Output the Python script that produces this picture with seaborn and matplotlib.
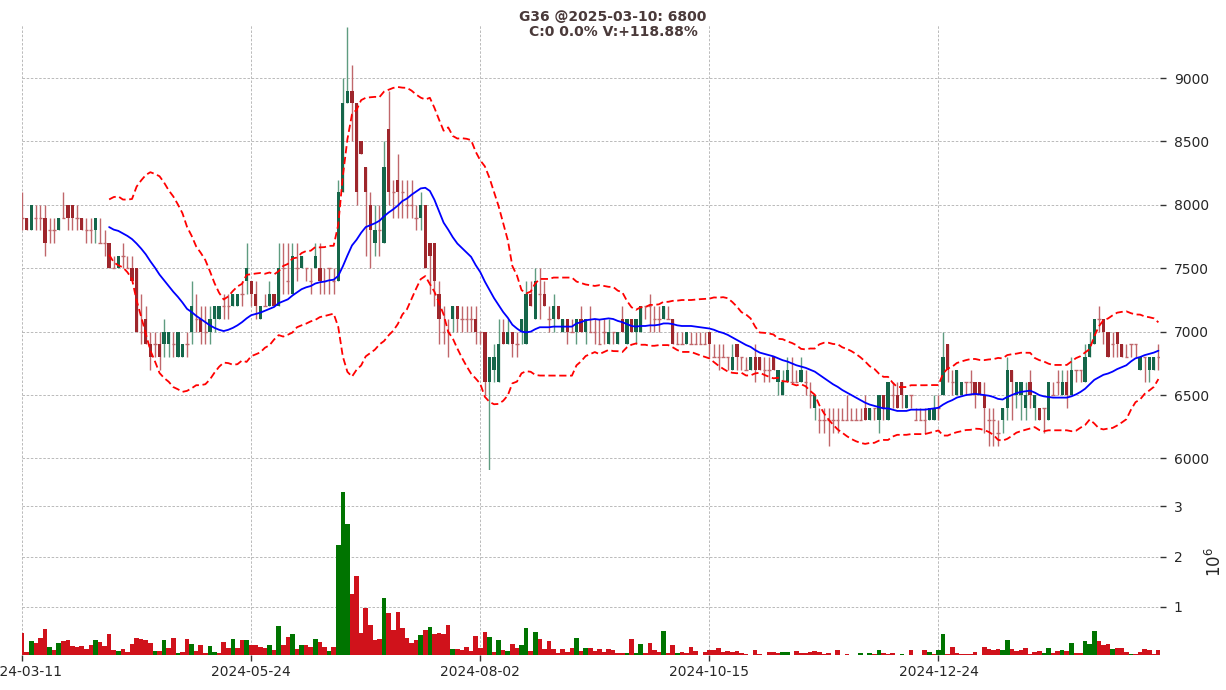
import numpy as np
import pandas as pd
import matplotlib
matplotlib.use("Agg")
import matplotlib.pyplot as plt
import seaborn as sns

# daily bars, index 0..248
tick_pos = [0, 50, 100, 150, 200]
tick_dates = ["2024-03-11", "2024-05-24", "2024-08-02", "2024-10-15", "2024-12-24"]

opens = [7900, 7900, 7800, 7900, 7900, 7900, 7800, 7800, 7800, 7900,
         8000, 8000, 7900, 7900, 7800, 7800, 7800, 7700, 7700, 7700,
         7500, 7500, 7600, 7500, 7500, 7500, 7000, 7100, 6900, 6900,
         6900, 6900, 6900, 6900, 6800, 6800, 6900, 7000, 7100, 7100,
         7000, 7000, 7100, 7100, 7200, 7200, 7200, 7200, 7300, 7400,
         7400, 7300, 7100, 7200, 7200, 7300, 7200, 7500, 7400, 7300,
         7500, 7500, 7500, 7400, 7500, 7500, 7400, 7500, 7400, 7400,
         8100, 8800, 8900, 8800, 8500, 8300, 8000, 7700, 7800, 7700,
         8600, 8100, 8200, 8100, 8000, 8000, 7900, 7900, 8000, 7700,
         7700, 7300, 7000, 7000, 7100, 7200, 7100, 7100, 7100, 7100,
         7000, 7000, 6600, 6700, 6600, 7000, 6900, 7000, 6900, 7000,
         6900, 7300, 7100, 7300, 7300, 7100, 7100, 7200, 7000, 7100,
         7000, 7000, 7100, 7000, 7000, 7000, 6900, 7000, 6900, 7000,
         6900, 7100, 6900, 7100, 7000, 7000, 7200, 7200, 7100, 7100,
         7100, 7100, 7100, 6900, 6900, 6900, 6900, 6900, 6900, 6900,
         7000, 6800, 6800, 6800, 6800, 6700, 6900, 6800, 6700, 6700,
         6800, 6800, 6700, 6700, 6800, 6600, 6500, 6600, 6600, 6600,
         6600, 6600, 6500, 6400, 6300, 6300, 6300, 6300, 6300, 6300,
         6300, 6300, 6300, 6300, 6400, 6300, 6400, 6300, 6500, 6300,
         6500, 6500, 6600, 6400, 6500, 6300, 6300, 6300, 6300, 6300,
         6400, 6500, 6900, 6600, 6500, 6500, 6600, 6600, 6600, 6600,
         6500, 6300, 6300, 6200, 6300, 6400, 6700, 6500, 6500, 6400,
         6600, 6400, 6400, 6400, 6300, 6500, 6600, 6500, 6600, 6500,
         6700, 6700, 6600, 6800, 6900, 7100, 7100, 7000, 6900, 7000,
         6900, 6800, 6900, 6900, 6700, 6800, 6700, 6700, 6800]

highs = [8100, 7900, 8000, 8000, 8000, 8000, 7900, 7900, 7900, 8100,
         8000, 8000, 8000, 7900, 7900, 7900, 7900, 7900, 7800, 7700,
         7600, 7600, 7700, 7600, 7600, 7500, 7300, 7200, 7000, 7000,
         7000, 7100, 7000, 7000, 7000, 6900, 7000, 7400, 7300, 7200,
         7200, 7200, 7200, 7200, 7300, 7300, 7300, 7300, 7400, 7700,
         7400, 7400, 7200, 7300, 7400, 7300, 7700, 7700, 7700, 7700,
         7700, 7600, 7500, 7500, 7700, 7700, 7500, 7500, 7500, 8200,
         9000, 9400, 9100, 8800, 8500, 8300, 8100, 8000, 8000, 8500,
         8900, 8200, 8400, 8200, 8200, 8200, 8000, 8100, 8000, 7700,
         7700, 7400, 7200, 7100, 7200, 7200, 7200, 7200, 7200, 7200,
         7000, 7000, 6800, 6900, 7100, 7100, 7100, 7000, 7000, 7100,
         7400, 7400, 7500, 7500, 7400, 7200, 7300, 7200, 7100, 7100,
         7100, 7100, 7200, 7100, 7200, 7100, 7100, 7100, 7100, 7000,
         7000, 7200, 7100, 7100, 7100, 7200, 7200, 7300, 7200, 7200,
         7200, 7200, 7100, 7000, 7000, 7000, 7000, 7000, 7000, 7000,
         7000, 6900, 6900, 6900, 6800, 6900, 6900, 6800, 6800, 6800,
         6900, 6800, 6800, 6800, 6800, 6700, 6700, 6800, 6800, 6700,
         6800, 6700, 6600, 6500, 6400, 6400, 6400, 6400, 6400, 6400,
         6500, 6400, 6400, 6400, 6500, 6400, 6400, 6500, 6500, 6600,
         6600, 6600, 6600, 6500, 6500, 6400, 6400, 6400, 6400, 6500,
         6500, 7000, 6900, 6700, 6700, 6600, 6600, 6700, 6600, 6600,
         6600, 6400, 6400, 6300, 6400, 6800, 6700, 6600, 6600, 6600,
         6700, 6500, 6400, 6400, 6600, 6600, 6700, 6700, 6700, 6800,
         6700, 6700, 6900, 7000, 7100, 7200, 7100, 7000, 7000, 7000,
         6900, 6900, 6900, 6900, 6800, 6800, 6800, 6800, 6900]

lows = [7800, 7800, 7800, 7800, 7800, 7600, 7700, 7700, 7800, 7900,
        7800, 7800, 7800, 7800, 7700, 7700, 7700, 7700, 7600, 7500,
        7500, 7500, 7500, 7500, 7400, 7000, 6900, 6900, 6700, 6800,
        6700, 6800, 6800, 6800, 6800, 6800, 6800, 6900, 7000, 6900,
        6900, 6900, 7000, 7100, 7100, 7100, 7200, 7200, 7200, 7300,
        7200, 7100, 7100, 7200, 7200, 7200, 7200, 7300, 7300, 7300,
        7400, 7500, 7400, 7300, 7500, 7300, 7300, 7300, 7300, 7400,
        8100, 8800, 8500, 8000, 8400, 7600, 7500, 7600, 7600, 7700,
        8000, 7900, 7900, 7900, 7900, 7900, 7800, 7800, 7500, 7300,
        7200, 6900, 6900, 6800, 7000, 7000, 7000, 7000, 7000, 6900,
        6900, 6500, 5900, 6600, 6600, 6900, 6900, 6800, 6800, 6900,
        6900, 7200, 7100, 7100, 7200, 7000, 7000, 7100, 7000, 6900,
        7000, 6900, 7000, 6900, 7000, 6900, 6900, 6900, 6900, 6900,
        6900, 7000, 6900, 7000, 6900, 7000, 7100, 7000, 7000, 7000,
        7100, 7100, 6900, 6900, 6900, 6900, 6900, 6900, 6900, 6900,
        6800, 6800, 6700, 6800, 6700, 6700, 6700, 6700, 6700, 6700,
        6600, 6700, 6600, 6600, 6700, 6500, 6500, 6600, 6600, 6600,
        6600, 6500, 6400, 6300, 6200, 6200, 6100, 6200, 6200, 6300,
        6300, 6300, 6300, 6300, 6300, 6300, 6300, 6200, 6300, 6300,
        6400, 6400, 6400, 6400, 6400, 6300, 6300, 6200, 6300, 6300,
        6300, 6500, 6600, 6500, 6500, 6500, 6500, 6500, 6400, 6500,
        6200, 6100, 6100, 6100, 6200, 6300, 6300, 6400, 6300, 6300,
        6400, 6300, 6300, 6200, 6300, 6500, 6500, 6500, 6400, 6500,
        6600, 6600, 6600, 6800, 6900, 7000, 6900, 6800, 6800, 6800,
        6800, 6800, 6800, 6800, 6700, 6600, 6600, 6700, 6700]

closes = [7900, 7800, 8000, 7900, 7900, 7700, 7800, 7800, 7900, 7900,
          7900, 7900, 7900, 7800, 7800, 7800, 7900, 7700, 7700, 7500,
          7500, 7600, 7600, 7500, 7400, 7000, 7000, 6900, 6800, 6900,
          6800, 7000, 7000, 6900, 7000, 6900, 6900, 7200, 7100, 7000,
          7000, 7100, 7200, 7200, 7200, 7200, 7300, 7300, 7300, 7500,
          7300, 7200, 7200, 7200, 7300, 7200, 7500, 7500, 7400, 7600,
          7500, 7600, 7500, 7400, 7600, 7400, 7400, 7500, 7400, 8100,
          8800, 8900, 8800, 8100, 8400, 8100, 7800, 7800, 7800, 8300,
          8100, 8100, 8100, 8100, 8000, 8000, 7900, 8000, 7500, 7600,
          7400, 7100, 7000, 7000, 7200, 7100, 7100, 7100, 7100, 7000,
          7000, 6600, 6800, 6800, 6900, 6900, 7000, 6900, 6900, 7100,
          7300, 7200, 7400, 7300, 7200, 7100, 7200, 7100, 7100, 7000,
          7000, 7100, 7000, 7100, 7000, 7000, 6900, 7000, 7000, 7000,
          7000, 7000, 7100, 7000, 7100, 7200, 7200, 7200, 7100, 7100,
          7200, 7100, 6900, 6900, 6900, 7000, 6900, 6900, 6900, 6900,
          6900, 6800, 6800, 6800, 6800, 6800, 6800, 6800, 6700, 6800,
          6700, 6700, 6700, 6700, 6700, 6700, 6600, 6700, 6600, 6600,
          6700, 6600, 6500, 6500, 6300, 6300, 6300, 6300, 6300, 6300,
          6300, 6300, 6300, 6300, 6300, 6400, 6400, 6500, 6400, 6600,
          6500, 6400, 6500, 6500, 6500, 6300, 6300, 6300, 6400, 6400,
          6400, 6800, 6700, 6600, 6700, 6600, 6600, 6600, 6500, 6500,
          6400, 6300, 6300, 6200, 6400, 6700, 6600, 6600, 6600, 6500,
          6500, 6500, 6300, 6400, 6600, 6500, 6600, 6600, 6500, 6700,
          6700, 6700, 6800, 6900, 7100, 7100, 7000, 6800, 6900, 6900,
          6800, 6800, 6900, 6900, 6800, 6800, 6800, 6800, 6800]

# volume in millions
volumes = [0.47, 0.09, 0.31, 0.27, 0.37, 0.55, 0.19, 0.13, 0.27, 0.31,
           0.33, 0.21, 0.19, 0.21, 0.15, 0.23, 0.33, 0.29, 0.21, 0.45,
           0.13, 0.11, 0.15, 0.09, 0.25, 0.37, 0.35, 0.33, 0.27, 0.11,
           0.11, 0.33, 0.17, 0.37, 0.07, 0.09, 0.35, 0.25, 0.11, 0.23,
           0.07, 0.21, 0.09, 0.07, 0.29, 0.17, 0.35, 0.17, 0.33, 0.33,
           0.23, 0.23, 0.19, 0.17, 0.23, 0.13, 0.61, 0.23, 0.39, 0.45,
           0.15, 0.23, 0.23, 0.19, 0.35, 0.29, 0.19, 0.11, 0.19, 2.23,
           3.29, 2.65, 1.25, 1.61, 0.47, 0.97, 0.63, 0.33, 0.35, 1.17,
           0.87, 0.53, 0.89, 0.57, 0.37, 0.27, 0.33, 0.43, 0.53, 0.59,
           0.45, 0.47, 0.45, 0.63, 0.15, 0.15, 0.13, 0.19, 0.11, 0.41,
           0.17, 0.49, 0.39, 0.09, 0.33, 0.13, 0.11, 0.25, 0.17, 0.23,
           0.57, 0.11, 0.49, 0.35, 0.15, 0.31, 0.15, 0.07, 0.15, 0.09,
           0.17, 0.37, 0.11, 0.17, 0.17, 0.11, 0.15, 0.09, 0.15, 0.13,
           0.07, 0.07, 0.07, 0.35, 0.07, 0.25, 0.07, 0.27, 0.13, 0.09,
           0.51, 0.07, 0.23, 0.07, 0.09, 0.07, 0.19, 0.11, 0.03, 0.09,
           0.13, 0.13, 0.17, 0.09, 0.11, 0.09, 0.11, 0.07, 0.05, 0.03,
           0.13, 0.05, 0.03, 0.09, 0.09, 0.07, 0.09, 0.09, 0.03, 0.11,
           0.07, 0.07, 0.09, 0.11, 0.09, 0.05, 0.07, 0.03, 0.13, 0.03,
           0.05, 0.03, 0.03, 0.07, 0.03, 0.07, 0.05, 0.13, 0.07, 0.05,
           0.07, 0.03, 0.05, 0.03, 0.13, 0.03, 0.03, 0.13, 0.09, 0.05,
           0.13, 0.45, 0.05, 0.19, 0.07, 0.05, 0.05, 0.05, 0.09, 0.03,
           0.19, 0.15, 0.13, 0.15, 0.13, 0.33, 0.15, 0.11, 0.13, 0.17,
           0.05, 0.09, 0.11, 0.07, 0.17, 0.07, 0.11, 0.13, 0.11, 0.27,
           0.07, 0.07, 0.31, 0.25, 0.51, 0.31, 0.23, 0.25, 0.15, 0.17,
           0.17, 0.09, 0.05, 0.05, 0.09, 0.15, 0.13, 0.064, 0.14]

# 1 = green volume bar, 0 = red
vol_up = [0, 0, 1, 0, 0, 0, 1, 0, 1, 0,
          0, 0, 0, 0, 0, 0, 1, 0, 0, 0,
          0, 1, 0, 0, 0, 0, 0, 0, 0, 1,
          0, 1, 0, 0, 1, 0, 0, 1, 0, 0,
          0, 1, 1, 0, 0, 0, 1, 0, 0, 1,
          0, 0, 0, 0, 1, 0, 1, 0, 0, 1,
          0, 1, 0, 0, 1, 0, 0, 1, 0, 1,
          1, 1, 0, 0, 0, 0, 0, 0, 0, 1,
          0, 0, 0, 0, 0, 0, 0, 1, 0, 1,
          0, 0, 0, 0, 1, 0, 0, 0, 0, 0,
          0, 0, 1, 0, 1, 0, 1, 0, 0, 1,
          1, 0, 1, 0, 0, 0, 0, 0, 0, 0,
          0, 1, 0, 1, 0, 0, 0, 0, 0, 0,
          0, 0, 1, 0, 1, 1, 0, 0, 0, 0,
          1, 0, 0, 1, 0, 0, 0, 0, 0, 0,
          0, 0, 0, 0, 0, 0, 0, 0, 0, 0,
          0, 0, 0, 0, 0, 0, 1, 1, 0, 0,
          0, 0, 0, 0, 0, 0, 0, 0, 0, 0,
          0, 0, 0, 1, 0, 1, 0, 1, 0, 0,
          0, 0, 1, 0, 0, 0, 0, 0, 1, 0,
          1, 1, 0, 0, 0, 0, 0, 0, 0, 0,
          0, 0, 0, 0, 1, 1, 0, 0, 0, 0,
          0, 0, 0, 1, 1, 0, 0, 1, 0, 1,
          0, 0, 1, 1, 1, 0, 0, 0, 1, 0,
          0, 0, 1, 0, 0, 0, 0, 0, 0]

df = pd.DataFrame({"open": opens, "high": highs, "low": lows,
                   "close": closes, "volume": volumes, "vol_up": vol_up})
df["idx"] = np.arange(len(df))

# Bollinger bands (20, 2)
df["ma"] = df["close"].rolling(20).mean()
sd = df["close"].rolling(20).std(ddof=0)
df["upper"] = df["ma"] + 2 * sd
df["lower"] = df["ma"] - 2 * sd

sns.set_style("white")
plt.rcParams["font.family"] = ["DejaVu Sans"]

fig = plt.figure(figsize=(12.26, 6.9), dpi=100)
ax = fig.add_axes([0.018, 0.319, 0.928, 0.645])
axv = fig.add_axes([0.018, 0.051, 0.928, 0.268], sharex=ax)

up_body, dn_body = "#15664a", "#9e262c"
up_wick, dn_wick = "#5f9c80", "#c0676b"

is_up = df["close"] > df["open"]
wick_cols = np.where(is_up, up_wick, dn_wick)
ax.vlines(df["idx"], df["low"], df["high"], colors=wick_cols, lw=1.0, zorder=2)

body = df[df["close"] != df["open"]]
bottoms = np.minimum(body["open"], body["close"])
heights = (body["close"] - body["open"]).abs()
ax.bar(body["idx"], heights, bottom=bottoms, width=0.72, linewidth=0,
       color=np.where(body["close"] > body["open"], up_body, dn_body), zorder=3)

doji = df[df["close"] == df["open"]]
ax.hlines(doji["close"], doji["idx"] - 0.36, doji["idx"] + 0.36,
          colors=dn_wick, lw=1.0, zorder=3)

sns.lineplot(data=df, x="idx", y="ma", ax=ax, color="blue", lw=1.3, zorder=4)
sns.lineplot(data=df, x="idx", y="upper", ax=ax, color="red", lw=1.3,
             zorder=4).lines[-1].set_dashes([4, 2])
sns.lineplot(data=df, x="idx", y="lower", ax=ax, color="red", lw=1.3,
             zorder=4).lines[-1].set_dashes([4, 2])

ax.set_ylim(5910, 9420)
ax.set_yticks([6000, 6500, 7000, 7500, 8000, 8500, 9000])
ax.set_xlim(0, 248.3)

# volume
sns.barplot(data=df, x="idx", y="volume", hue="vol_up", ax=axv,
            palette={0: "#d0121b", 1: "#007400"}, native_scale=True,
            width=1.0, dodge=False, legend=False, errorbar=None,
            linewidth=0, saturation=1)
axv.set_ylim(0.04, 3.73)
axv.set_yticks([1, 2, 3])
axv.set_xticks(tick_pos)
axv.set_xticklabels(tick_dates)
axv.set_xlim(0, 248.3)

for a in (ax, axv):
    for s in a.spines.values():
        s.set_visible(False)
    a.yaxis.tick_right()
    a.grid(True, color="#b0b0b0", ls=(0, (3, 2)), lw=0.6)
    a.set_axisbelow(True)
    a.set_xlabel("")
    a.set_ylabel("")
    a.tick_params(axis="y", right=True, length=4, width=1, color="#333333",
                  labelsize=10, pad=6)
    a.tick_params(axis="x", bottom=True, length=4, width=1, color="#333333",
                  labelsize=10)
ax.tick_params(axis="x", bottom=False, labelbottom=False)

axv.yaxis.set_label_position("right")
axv.set_ylabel("$10^6$", fontsize=12, labelpad=16)

fig.text(0.5, 0.985, "G36 @2025-03-10: 6800\nC:0 0.0% V:+118.88%",
         ha="center", va="top", fontsize=10, fontweight="bold",
         color="#4a3a3a", linespacing=1.1)

fig.savefig("out.png", dpi=100)
